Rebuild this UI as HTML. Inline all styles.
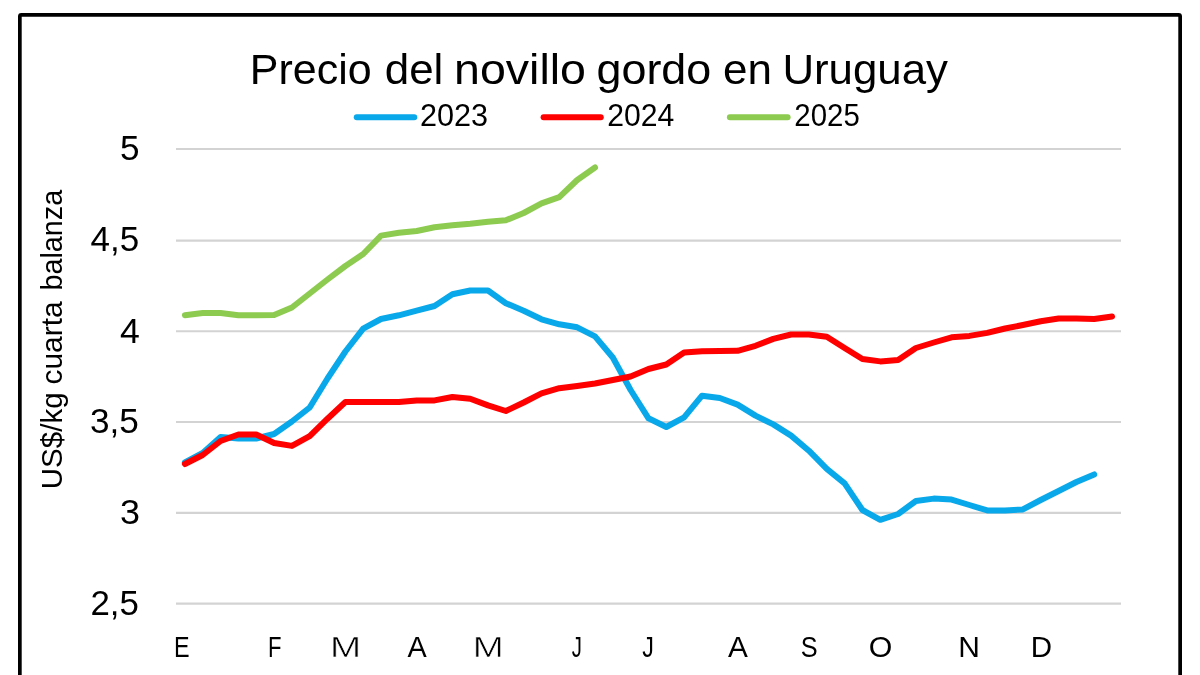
<!DOCTYPE html>
<html><head><meta charset="utf-8"><style>
html,body{margin:0;padding:0;background:#fff;width:1200px;height:675px;overflow:hidden}
svg{position:absolute;left:0;top:0;display:block;will-change:transform}
text{font-family:"Liberation Sans",sans-serif;fill:#000}
</style></head><body>
<svg width="1200" height="675" viewBox="0 0 1200 675">
<rect x="19.85" y="14.85" width="1160.3" height="700" rx="1.5" fill="#fff" stroke="#000" stroke-width="3.7"/>
<g stroke="#D3D3D3" stroke-width="2.1">
<line x1="176" y1="149.06" x2="1121" y2="149.06"/>
<line x1="176" y1="240.65" x2="1121" y2="240.65"/>
<line x1="176" y1="331.30" x2="1121" y2="331.30"/>
<line x1="176" y1="422.06" x2="1121" y2="422.06"/>
<line x1="176" y1="512.83" x2="1121" y2="512.83"/>
<line x1="176" y1="603.60" x2="1121" y2="603.60"/>
</g>
<g stroke-width="6" stroke-linecap="round">
<line x1="356.75" y1="117.2" x2="414.25" y2="117.2" stroke="#08A8EA"/>
<line x1="543.6" y1="117.2" x2="600.75" y2="117.2" stroke="#F00"/>
<line x1="729.9" y1="117.2" x2="787.6" y2="117.2" stroke="#8DCB50"/>
</g>
<text id="t_Precio" x="249.77" y="84.00" font-size="43" textLength="121.83" lengthAdjust="spacingAndGlyphs">Precio</text>
<text id="t_del" x="384.74" y="84.00" font-size="43" textLength="58.62" lengthAdjust="spacingAndGlyphs">del</text>
<text id="t_novillo" x="454.09" y="84.00" font-size="43" textLength="131.91" lengthAdjust="spacingAndGlyphs">novillo</text>
<text id="t_gordo" x="596.53" y="84.00" font-size="43" textLength="114.67" lengthAdjust="spacingAndGlyphs">gordo</text>
<text id="t_en" x="723.00" y="84.00" font-size="43" textLength="48.95" lengthAdjust="spacingAndGlyphs">en</text>
<text id="t_Uruguay" x="782.41" y="84.00" font-size="43" textLength="165.52" lengthAdjust="spacingAndGlyphs">Uruguay</text>
<text id="l_2023" x="420.00" y="125.50" font-size="31" textLength="68.12" lengthAdjust="spacingAndGlyphs">2023</text>
<text id="l_2024" x="607.17" y="125.50" font-size="31" textLength="67.08" lengthAdjust="spacingAndGlyphs">2024</text>
<text id="l_2025" x="794.37" y="125.50" font-size="31" textLength="65.38" lengthAdjust="spacingAndGlyphs">2025</text>
<text id="y_5" x="119.94" y="159.60" font-size="35.5" textLength="19.53" lengthAdjust="spacingAndGlyphs">5</text>
<text id="y_4,5" x="90.62" y="250.60" font-size="35.5" textLength="48.64" lengthAdjust="spacingAndGlyphs">4,5</text>
<text id="y_4" x="120.00" y="342.70" font-size="35.5" textLength="19.81" lengthAdjust="spacingAndGlyphs">4</text>
<text id="y_3,5" x="90.02" y="433.10" font-size="35.5" textLength="48.86" lengthAdjust="spacingAndGlyphs">3,5</text>
<text id="y_3" x="120.09" y="523.90" font-size="35.5" textLength="19.98" lengthAdjust="spacingAndGlyphs">3</text>
<text id="y_2,5" x="90.40" y="614.80" font-size="35.5" textLength="48.44" lengthAdjust="spacingAndGlyphs">2,5</text>
<text id="x0_E" x="173.94" y="656.80" font-size="30.2" textLength="15.58" lengthAdjust="spacingAndGlyphs">E</text>
<text id="x1_F" x="268.09" y="656.80" font-size="30.2" textLength="13.50" lengthAdjust="spacingAndGlyphs">F</text>
<text id="x2_M" x="329.93" y="656.80" font-size="30.2" stroke="#fff" stroke-width="0.6" textLength="31.15" lengthAdjust="spacingAndGlyphs">M</text>
<text id="x3_A" x="407.42" y="656.80" font-size="30.2" textLength="19.22" lengthAdjust="spacingAndGlyphs">A</text>
<text id="x4_M" x="472.82" y="656.80" font-size="30.2" stroke="#fff" stroke-width="0.6" textLength="31.05" lengthAdjust="spacingAndGlyphs">M</text>
<text id="x5_J" x="571.63" y="656.80" font-size="30.2" textLength="10.17" lengthAdjust="spacingAndGlyphs">J</text>
<text id="x6_J" x="642.30" y="656.80" font-size="30.2" textLength="11.64" lengthAdjust="spacingAndGlyphs">J</text>
<text id="x7_A" x="727.97" y="656.80" font-size="30.2" textLength="19.87" lengthAdjust="spacingAndGlyphs">A</text>
<text id="x8_S" x="800.72" y="656.80" font-size="30.2" textLength="16.87" lengthAdjust="spacingAndGlyphs">S</text>
<text id="x9_O" x="868.78" y="656.80" font-size="30.2" textLength="23.57" lengthAdjust="spacingAndGlyphs">O</text>
<text id="x10_N" x="958.31" y="656.80" font-size="30.2" textLength="21.66" lengthAdjust="spacingAndGlyphs">N</text>
<text id="x11_D" x="1030.64" y="656.80" font-size="30.2" textLength="21.30" lengthAdjust="spacingAndGlyphs">D</text>
<text id="yt_USS_kg" transform="translate(62.00,489.35) rotate(-90)" font-size="29" textLength="96.99" lengthAdjust="spacingAndGlyphs">US$/kg</text>
<text id="yt_cuarta" transform="translate(62.00,384.55) rotate(-90)" font-size="29" textLength="83.16" lengthAdjust="spacingAndGlyphs">cuarta</text>
<text id="yt_balanza" transform="translate(62.00,290.49) rotate(-90)" font-size="29" textLength="100.68" lengthAdjust="spacingAndGlyphs">balanza</text>
<g fill="none" stroke-width="6" stroke-linecap="round" stroke-linejoin="round">
<polyline points="184.9,462.5 202.7,453.0 220.6,437.0 238.4,438.5 256.2,438.5 274.1,434.0 291.9,421.5 309.7,407.5 327.5,378.5 345.4,351.5 363.2,328.7 381.0,319.0 398.9,315.3 416.7,310.7 434.5,306.0 452.4,294.3 470.2,290.5 488.0,290.5 505.8,303.2 523.7,310.7 541.5,319.3 559.3,324.3 577.2,327.3 595.0,336.4 612.8,357.5 630.6,390.0 648.5,418.3 666.3,427.0 684.1,417.3 702.0,395.7 719.8,398.0 737.6,404.6 755.5,415.6 773.3,424.4 791.1,435.6 808.9,450.7 826.8,468.9 844.6,483.3 862.4,510.0 880.3,519.8 898.1,514.0 915.9,501.0 933.8,498.6 951.6,499.6 969.4,505.0 987.2,510.4 1005.1,510.4 1022.9,509.4 1040.7,500.0 1058.6,491.0 1076.4,482.0 1094.2,474.4" stroke="#08A8EA"/>
<polyline points="184.9,464.0 202.7,455.0 220.6,441.0 238.4,434.5 256.2,434.5 274.1,443.0 291.9,445.9 309.7,436.2 327.5,418.7 345.4,402.0 363.2,402.0 381.0,402.0 398.9,402.0 416.7,400.4 434.5,400.4 452.4,397.0 470.2,398.8 488.0,405.4 505.8,411.0 523.7,402.5 541.5,393.3 559.3,388.2 577.2,386.0 595.0,383.5 612.8,380.0 630.6,376.5 648.5,369.0 666.3,364.5 684.1,352.6 702.0,351.2 719.8,351.0 737.6,350.8 755.5,345.8 773.3,338.9 791.1,334.5 808.9,334.5 826.8,336.7 844.6,348.0 862.4,359.0 880.3,361.4 898.1,360.1 915.9,348.0 933.8,342.5 951.6,337.3 969.4,335.9 987.2,332.9 1005.1,328.5 1022.9,325.0 1040.7,321.2 1058.6,318.5 1076.4,318.5 1094.2,318.9 1112.1,316.6" stroke="#F00"/>
<polyline points="184.9,315.2 202.7,313.1 220.6,313.0 238.4,315.2 256.2,315.3 274.1,315.0 291.9,307.5 309.7,293.5 327.5,279.5 345.4,266.0 363.2,254.0 381.0,235.6 398.9,232.8 416.7,231.0 434.5,227.3 452.4,225.3 470.2,223.7 488.0,221.7 505.8,220.3 523.7,213.0 541.5,203.3 559.3,197.2 577.2,180.0 595.0,167.5" stroke="#8DCB50"/>
</g>
</svg>
</body></html>
